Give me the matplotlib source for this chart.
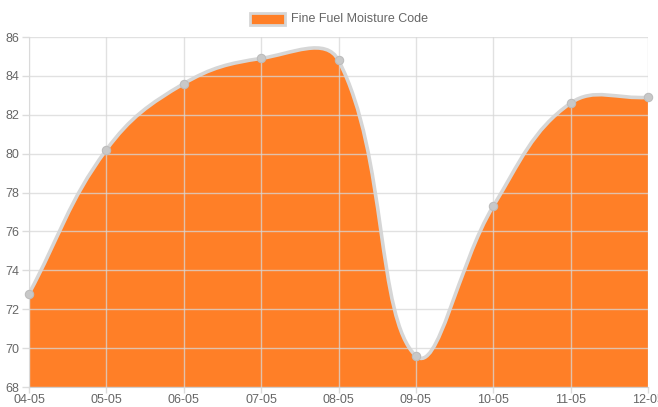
import numpy as np
import matplotlib
matplotlib.use("Agg")
import matplotlib.pyplot as plt
from matplotlib.path import Path
from matplotlib.patches import PathPatch, Rectangle

dates = ["04-05", "05-05", "06-05", "07-05", "08-05", "09-05", "10-05", "11-05", "12-05"]
ffmc = [72.8, 80.2, 83.6, 84.9, 84.8, 69.6, 77.3, 82.6, 82.9]
yticks = [68, 70, 72, 74, 76, 78, 80, 82, 84, 86]

fill_color = "#ff7f27"
line_color = "#d6d6d6"
text_color = "#666666"

plt.rcParams['font.family'] = ['Liberation Sans', 'DejaVu Sans']

fig = plt.figure(figsize=(6.58, 4.07), dpi=100)
ax = fig.add_axes([29/658, 1-387/407, (648-29)/658, (387-37)/407])
x = np.arange(len(dates))
ax.set_xlim(0, len(dates)-1)
ax.set_ylim(68, 86)

# Chart.js style spline (tension 0.4) computed in display space
fig.canvas.draw()
pts = ax.transData.transform(np.column_stack([x, ffmc]))
t = 0.4
ctrl_prev = []
ctrl_next = []
n = len(pts)
for i in range(n):
    p0 = pts[i-1] if i > 0 else pts[i]
    p1 = pts[i]
    p2 = pts[i+1] if i < n-1 else pts[i]
    d01 = np.hypot(*(p1-p0))
    d12 = np.hypot(*(p2-p1))
    tot = d01 + d12
    s01 = d01/tot if tot else 0
    s12 = d12/tot if tot else 0
    ctrl_prev.append(p1 - t*s01*(p2-p0))
    ctrl_next.append(p1 + t*s12*(p2-p0))

verts = [pts[0]]
codes = [Path.MOVETO]
for i in range(n-1):
    verts += [ctrl_next[i], ctrl_prev[i+1], pts[i+1]]
    codes += [Path.CURVE4]*3
inv = ax.transData.inverted()
curve_data_verts = inv.transform(np.array(verts))

# fill polygon
fill_verts = list(curve_data_verts) + [(x[-1], 68), (x[0], 68), tuple(curve_data_verts[0])]
fill_codes = codes + [Path.LINETO, Path.LINETO, Path.CLOSEPOLY]
ax.add_patch(PathPatch(Path(fill_verts, fill_codes), facecolor=fill_color, edgecolor='none', zorder=1))

# grid on top of fill
ax.set_yticks(yticks)
ax.set_xticks(x)
ax.set_xticklabels(dates)
ax.set_axisbelow(False)
ax.grid(True, color='#d8d8d8', alpha=0.75, linewidth=1, zorder=2)

ax.add_patch(PathPatch(Path(curve_data_verts, codes), facecolor='none', edgecolor=line_color,
                       linewidth=2.6, zorder=3, capstyle='round', joinstyle='round'))
ax.plot(x, ffmc, 'o', color='#c8c8c8', markersize=6, markeredgecolor='#bdbdbd',
        markeredgewidth=0.8, zorder=4, clip_on=False)

for s in ax.spines.values():
    s.set_visible(False)
ax.spines['left'].set_visible(True)
ax.spines['bottom'].set_visible(True)
ax.spines['left'].set_color('#e0e0e0')
ax.spines['bottom'].set_color('#cfcfcf')
ax.tick_params(axis='both', colors='#dcdcdc', labelcolor=text_color, labelsize=9, length=5, width=1)
ax.tick_params(axis='x', pad=1, length=4)
ax.tick_params(axis='y', pad=2)

# legend
fig.patches.append(Rectangle((250/658, 1-25/407), 35/658, 12/407, transform=fig.transFigure,
                             facecolor=fill_color, edgecolor=line_color, linewidth=2))
fig.text(291/658, 1-19/407, "Fine Fuel Moisture Code", color=text_color, fontsize=9,
         va='center', ha='left')

fig.savefig("out.png", dpi=100)
